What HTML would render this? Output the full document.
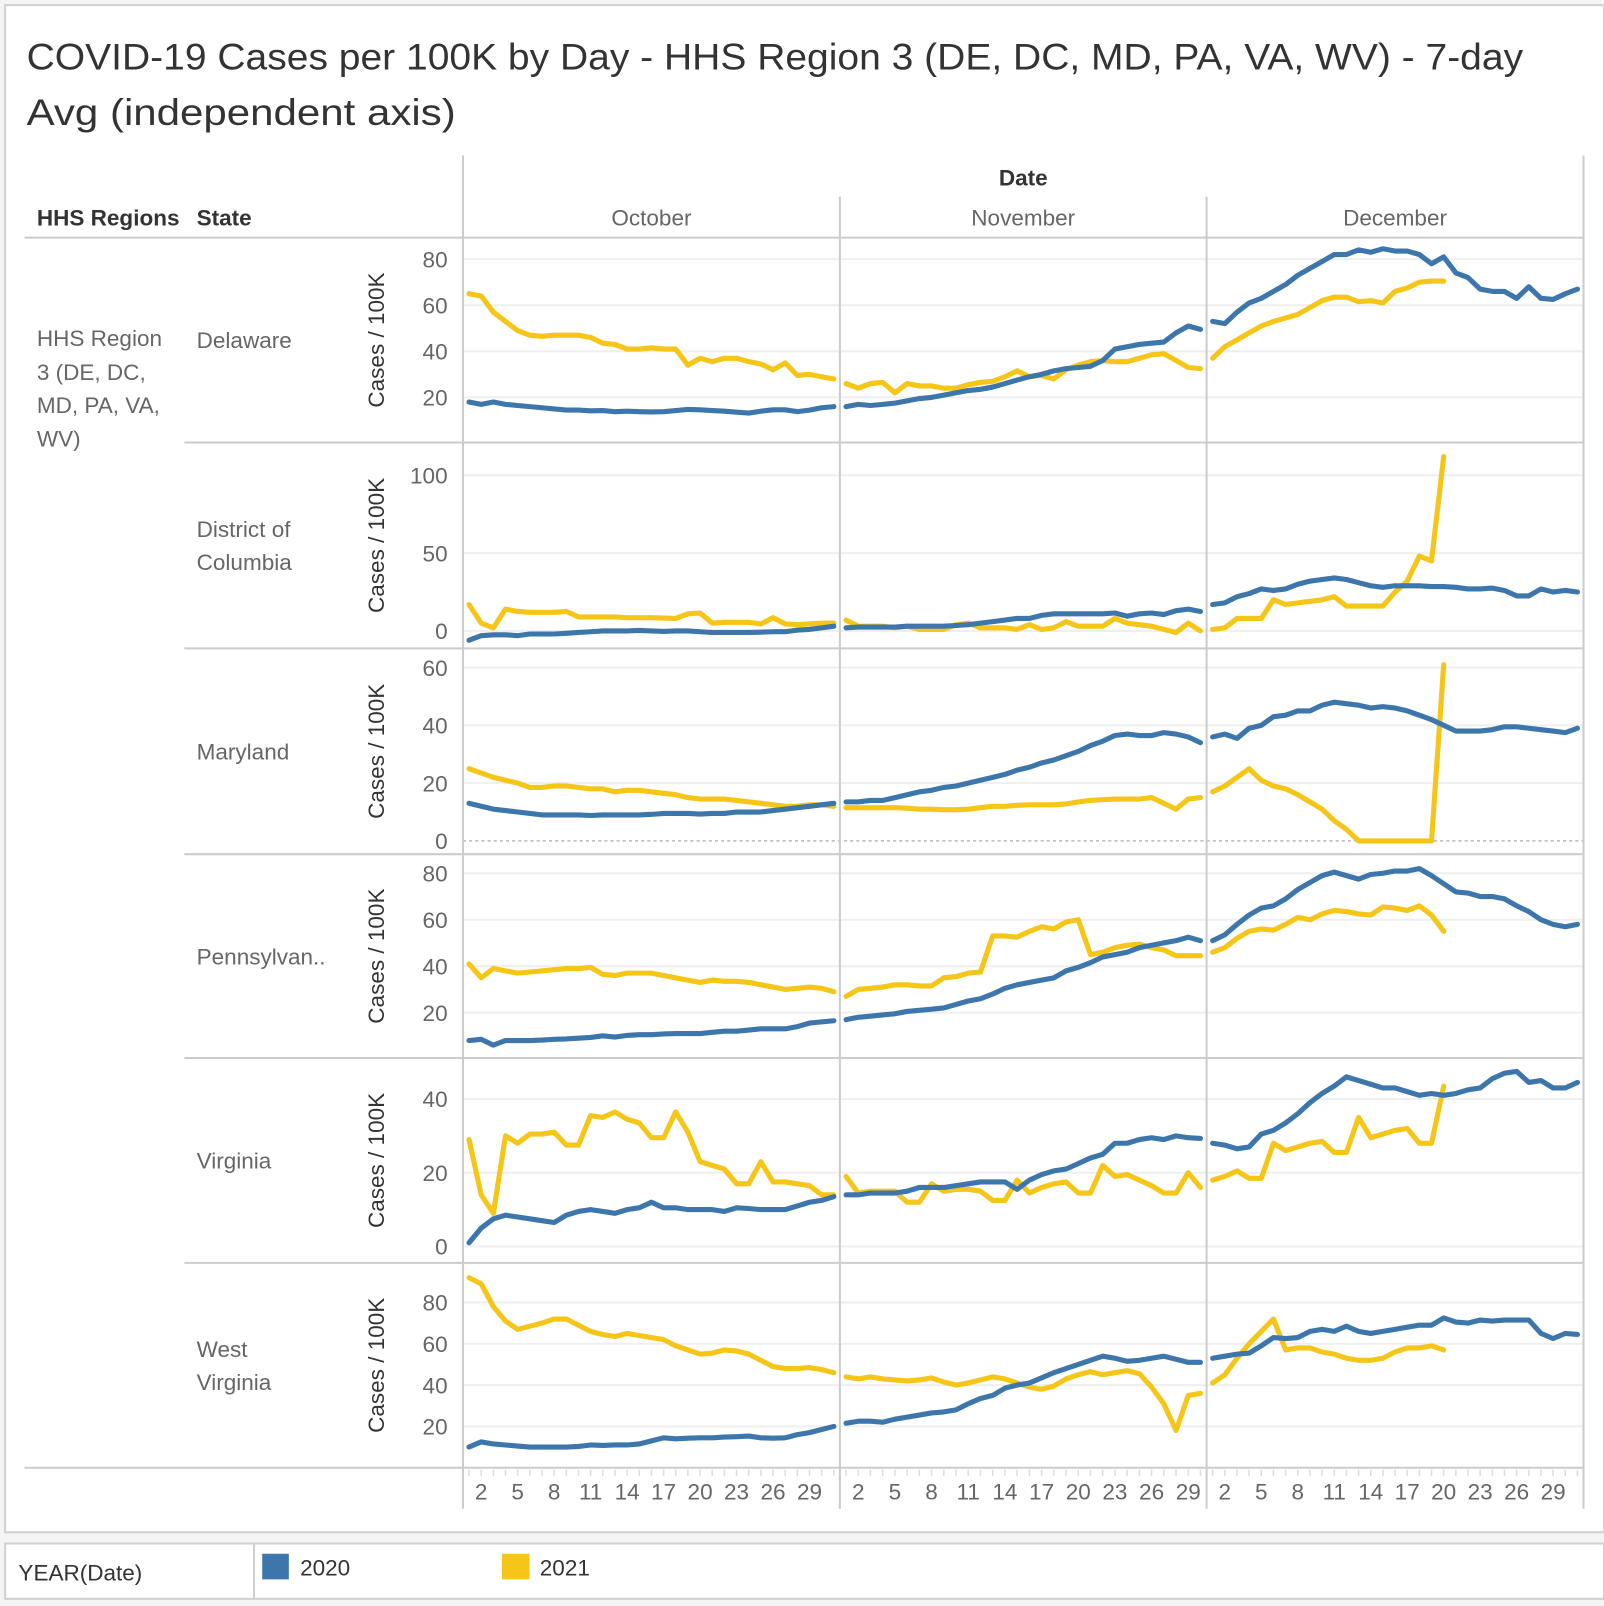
<!DOCTYPE html>
<html><head><meta charset="utf-8"><style>
html,body{margin:0;padding:0;background:#f4f4f4;}
svg{display:block;font-family:"Liberation Sans",sans-serif;}
</style></head><body>
<svg id="chart" width="1604" height="1606" viewBox="0 0 1566 1568" preserveAspectRatio="none" xmlns="http://www.w3.org/2000/svg">
<rect x="5" y="5" width="1561" height="1491" fill="#fff" stroke="#d0d0d0" stroke-width="2"/>
<text x="26" y="68" font-size="36" fill="#333" textLength="1461" lengthAdjust="spacingAndGlyphs">COVID-19 Cases per 100K by Day - HHS Region 3 (DE, DC, MD, PA, VA, WV) - 7-day</text>
<text x="26" y="122" font-size="36" fill="#333" textLength="419" lengthAdjust="spacingAndGlyphs">Avg (independent axis)</text>
<text x="999" y="181" font-size="22" font-weight="bold" fill="#333" text-anchor="middle">Date</text>
<text x="36" y="220" font-size="22" font-weight="bold" fill="#333">HHS Regions</text>
<text x="192" y="220" font-size="22" font-weight="bold" fill="#333">State</text>
<g id="region-label" font-size="22" fill="#666">
<text x="36" y="338">HHS Region</text><text x="36" y="371">3 (DE, DC,</text><text x="36" y="403">MD, PA, VA,</text><text x="36" y="436">WV)</text>
</g>
<g id="grid"></g>
<g id="frame"></g>
<g id="marks"></g>
<rect x="5" y="1507" width="1561" height="54" fill="#fff" stroke="#d0d0d0" stroke-width="2"/>
<line x1="248" y1="1507" x2="248" y2="1561" stroke="#d0d0d0" stroke-width="2"/>
<text x="18" y="1543" font-size="22" fill="#333">YEAR(Date)</text>
<rect x="256" y="1517" width="26" height="25" fill="#3d76ab"/>
<text x="293" y="1538" font-size="22" fill="#333">2020</text>
<rect x="490" y="1517" width="27" height="25" fill="#f5c518"/>
<text x="527" y="1538" font-size="22" fill="#333">2021</text>
</svg>
<script>
const months = ["October","November","December"];
const monthDays = [31,30,31];
const xTickDays = [2,5,8,11,14,17,20,23,26,29];
const states = ["Delaware","District of\nColumbia","Maryland","Pennsylvan..","Virginia","West\nVirginia"];
const yTicks = [[20,40,60,80],[0,50,100],[0,20,40,60],[20,40,60,80],[0,20,40],[20,40,60,80]];

const de2020 = [18,17,18,17,16.5,16,15.5,15,14.5,14.5,14.2,14.3,13.8,14,13.8,13.7,13.8,14.3,14.8,14.6,14.3,14,13.6,13.2,14,14.6,14.6,13.8,14.5,15.5,16,
 16,17,16.5,17,17.5,18.5,19.5,20,21,22,23,23.5,24.5,26,27.5,29,30,31.5,32.5,33,33.5,36,41,42,43,43.5,44,48,51,49.5,
 53,52,57,61,63,66,69,73,76,79,82,82,84,83,84.5,83.5,83.5,82,78,81,74,72,67,66,66,63,68,63,62.5,65,67];
const de2021 = [65,64,57,53,49,47,46.5,47,47,47,46,43.5,43,41,41,41.5,41,41,34,37,35.5,37,37,35.5,34.5,32,35,29.5,30,29,28,
 26,24,26,26.5,22,26,25,25,24,24,25.5,26.5,27,29,31.5,29,29.5,28,32,34,35.5,36,35.5,35.5,37,38.5,39,36,33,32.5,
 37,42,45,48,51,53,54.5,56,59,62,63.5,63.5,61.5,62,61,66,67.5,70,70.5,70.5];
const dc2020 = [-6,-3,-2.5,-2.5,-3,-2,-2,-2,-1.5,-1,-0.5,0,0,0,0.3,0,-0.3,0,0,-0.5,-1,-1,-1,-1,-0.8,-0.5,-0.5,0.5,1,2,3,
 2,2.5,2.5,2.5,2.5,3,3,3,3,3.5,4,5,6,7,8,8,10,11,11,11,11,11,11.5,9.5,11,11.5,10.5,13,14,12.5,
 17,18,22,24,27,26,27,30,32,33,34,33,31,29,28,29,29,29,28.5,28.5,28,27,27,27.5,26,22.5,22.5,27,25,26,25];
const dc2021 = [17,5,2,14,12.5,12,12,12,12.5,9,9,9,9,8.5,8.5,8.5,8.3,8,11,11.5,5,5.5,5.5,5.5,4.5,8.5,4.5,4,4.5,5,5,
 7,3,3,3,2,3,1,1,1,4,5,2,2,2,1,4,1,2,6,3,3,3,8,5,4,3,1,-1,5,0,
 1,2,8,8,8,20,17,18,19,20,22,16,16,16,16,25,32,48,45,112];
const md2020 = [13,12,11,10.5,10,9.5,9,9,9,9,8.8,9,9,9,9,9.2,9.5,9.5,9.5,9.3,9.5,9.5,10,10,10,10.5,11,11.5,12,12.5,13,
 13.5,13.5,14,14,15,16,17,17.5,18.5,19,20,21,22,23,24.5,25.5,27,28,29.5,31,33,34.5,36.5,37,36.5,36.5,37.5,37,36,34,
 36,37,35.5,39,40,43,43.5,45,45,47,48,47.5,47,46,46.5,46,45,43.5,42,40,38,38,38,38.5,39.5,39.5,39,38.5,38,37.5,39];
const md2021 = [25,23.5,22,21,20,18.5,18.5,19,19,18.5,18,18,17,17.5,17.5,17,16.5,16,15,14.5,14.5,14.5,14,13.5,13,12.5,12,12,12.5,12.5,12,
 11.5,11.5,11.5,11.5,11.5,11.3,11,11,10.8,10.8,11,11.5,12,12,12.3,12.5,12.5,12.5,12.8,13.5,14,14.3,14.5,14.5,14.5,15,13,11,14.5,15,
 17,19,22,25,21,19,18,16,13.5,11,7,4,0,0,0,0,0,0,0,61];
const pa2020 = [8,8.5,6,8,8,8,8.2,8.5,8.7,9,9.3,10,9.5,10.2,10.5,10.5,10.8,11,11,11,11.5,12,12,12.5,13,13,13,14,15.5,16,16.5,
 17,18,18.5,19,19.5,20.5,21,21.5,22,23.5,25,26,28,30.5,32,33,34,35,38,39.5,41.5,44,45,46,48,49,50,51,52.5,51,
 51,53.5,58,62,65,66,69,73,76,79,80.5,79,77.5,79.5,80,81,81,82,79,75.5,72,71.5,70,70,69,66,63.5,60,58,57,58];
const pa2021 = [41,35,39,38,37,37.5,38,38.5,39,39,39.5,36.5,36,37,37,37,36,35,34,33,34,33.5,33.5,33,32,31,30,30.5,31,30.5,29,
 27,30,30.5,31,32,32,31.5,31.5,35,35.5,37,37.5,53,53,52.5,55,57,56,59,60,45,46,48,49,49.5,48,47,44.5,44.5,44.5,
 46,48,52,55,56,55.5,58,61,60,62.5,64,63.5,62.5,62,65.5,65,64,66,62,55];
const va2020 = [1,5,7.5,8.5,8,7.5,7,6.5,8.5,9.5,10,9.5,9,10,10.5,12,10.5,10.5,10,10,10,9.5,10.5,10.3,10,10,10,11,12,12.5,13.5,
 14,14,14.5,14.5,14.5,15,16,16,16,16.5,17,17.5,17.5,17.5,15.5,18,19.5,20.5,21,22.5,24,25,28,28,29,29.5,29,30,29.5,29.3,
 28,27.5,26.5,27,30.5,31.5,33.5,36,39,41.5,43.5,46,45,44,43,43,42,41,41.5,41,41.5,42.5,43,45.5,47,47.5,44.5,45,43,43,44.5];
const va2021 = [29,14,9,30,28,30.5,30.5,31,27.5,27.5,35.5,35,36.5,34.5,33.5,29.5,29.5,36.5,31,23,22,21,17,17,23,17.5,17.5,17,16.5,14,14,
 19,14.5,15,15,15,12,12,17,15,15.5,15.5,15,12.5,12.5,18,14.5,16,17,17.5,14.5,14.5,22,19,19.5,18,16.5,14.5,14.5,20,16,
 18,19,20.5,18.5,18.5,28,26,27,28,28.5,25.5,25.5,35,29.5,30.5,31.5,32,28,28,43.5];
const wv2020 = [10,12.5,11.5,11,10.5,10,10,10,10,10.3,11,10.8,11,11,11.5,13,14.5,14,14.3,14.5,14.5,14.8,15,15.3,14.5,14.3,14.5,16,17,18.5,20,
 21.5,22.5,22.5,22,23.5,24.5,25.5,26.5,27,28,31,33.5,35,38.5,40,41,43.5,46,48,50,52,54,53,51.5,52,53,54,52.5,51,51,
 53,54,55,55.5,59,63,62.5,63,66,67,66,68.5,66,65,66,67,68,69,69,72.5,70.5,70,71.5,71,71.5,71.5,71.5,65,62.5,65,64.5];
const wv2021 = [92,89,78,71,67,68.5,70,72,72,69,66,64.5,63.5,65,64,63,62,59,57,55,55.5,57,56.5,55,52,49,48,48,48.5,47.5,46,
 44,43,44,43,42.5,42,42.5,43.5,41.5,40,41,42.5,44,43,41,39,38,39.5,43,45,46.5,45,46,47,45.5,39,31,18,35,36,
 41,45,53,60,66,72,57,58,58,56,55,53,52,52,53,56,58,58,59,57];
const series2020 = [de2020,dc2020,md2020,pa2020,va2020,wv2020];
const series2021 = [de2021,dc2021,md2021,pa2021,va2021,wv2021];

const rowTops = [232,432,633,834,1033,1233,1433];
const zeroY = [433,616,821,1034,1217,1433];
const pxPer = [2.25,1.52,2.82,2.267,3.6,2.017];
const panelX = [452,820,1178,1546];
const NS = "http://www.w3.org/2000/svg";
function mk(tag, attrs, parent){const e=document.createElementNS(NS,tag);for(const k in attrs)e.setAttribute(k,attrs[k]);parent.appendChild(e);return e;}
function xScale(m, d){return panelX[m] + (d-0.5)*(panelX[m+1]-panelX[m])/monthDays[m];}
function yScale(r, v){return zeroY[r] - v*pxPer[r];}
const grid=document.getElementById('grid'), frame=document.getElementById('frame'), marks=document.getElementById('marks'), svg=document.getElementById('chart');

for(let r=0;r<6;r++){
  yTicks[r].forEach(t=>{
    const y=yScale(r,t);
    const isZeroMD = (r===2 && t===0);
    const gl=mk('line',{x1:452,x2:1546,y1:y,y2:y,stroke:isZeroMD?'#aaa':'#efefef','stroke-width':isZeroMD?1.2:2,'stroke-dasharray':isZeroMD?'3,3':'none'},grid);
    
    
    const tl=mk('text',{x:437,y:y+8,'font-size':22,fill:'#666','text-anchor':'end'},svg);
    tl.textContent=t;
    
    
  });
  const cy=(rowTops[r]+rowTops[r+1])/2;
  const at=mk('text',{x:0,y:0,'font-size':22,fill:'#333','text-anchor':'middle',transform:`translate(375,${cy}) rotate(-90)`},svg);
  at.textContent='Cases / 100K';
  
  
  const lines=states[r].split('\n');
  const sy=cy-(lines.length-1)*16+8;
  lines.forEach((ln,i)=>{
    const st=mk('text',{x:192,y:(r===0?340:sy+i*32),'font-size':22,fill:'#666'},svg);
    st.textContent=ln;
    
    
  });
  if(r>0){const sl=mk('line',{x1:180,x2:1546,y1:rowTops[r],y2:rowTops[r],stroke:'#ccc','stroke-width':2},frame);
    
    }
}
mk('line',{x1:24,x2:1546,y1:232,y2:232,stroke:'#ccc','stroke-width':2},frame);
mk('line',{x1:24,x2:1546,y1:1433,y2:1433,stroke:'#ccc','stroke-width':2},frame);
mk('line',{x1:452,x2:452,y1:152,y2:1473,stroke:'#ccc','stroke-width':2},frame);
mk('line',{x1:820,x2:820,y1:192,y2:1473,stroke:'#ccc','stroke-width':2},frame);
mk('line',{x1:1178,x2:1178,y1:192,y2:1473,stroke:'#ccc','stroke-width':2},frame);
mk('line',{x1:1546,x2:1546,y1:152,y2:1473,stroke:'#ccc','stroke-width':2},frame);

for(let m=0;m<3;m++){
  const mt=mk('text',{x:(panelX[m]+panelX[m+1])/2,y:220,'font-size':22,fill:'#666','text-anchor':'middle'},svg);
  mt.textContent=months[m];
  
  
  for(let d=1;d<=monthDays[m];d++){
    const x=xScale(m,d);
    mk('line',{x1:x,x2:x,y1:1435,y2:1441,stroke:'#ddd','stroke-width':1.5},frame);
  }
  xTickDays.forEach(d=>{
    const xt=mk('text',{x:xScale(m,d),y:1464,'font-size':22,fill:'#666','text-anchor':'middle'},svg);
    xt.textContent=d;
    
    
  });
}

function drawSeries(r, data, color, name){
  let idx=0;
  for(let m=0;m<3 && idx<data.length;m++){
    const pts=[];
    for(let d=1;d<=monthDays[m] && idx<data.length;d++,idx++){
      pts.push(xScale(m,d).toFixed(1)+','+yScale(r,data[idx]).toFixed(1));
    }
    const p=mk('polyline',{points:pts.join(' '),fill:'none',stroke:color,'stroke-width':5,'stroke-linejoin':'round','stroke-linecap':'round'},marks);
    
    
  }
}
for(let r=0;r<6;r++){
  drawSeries(r, series2021[r], '#f5c518', 'line-2021');
  drawSeries(r, series2020[r], '#3d76ab', 'line-2020');
}
</script>
</body></html>
